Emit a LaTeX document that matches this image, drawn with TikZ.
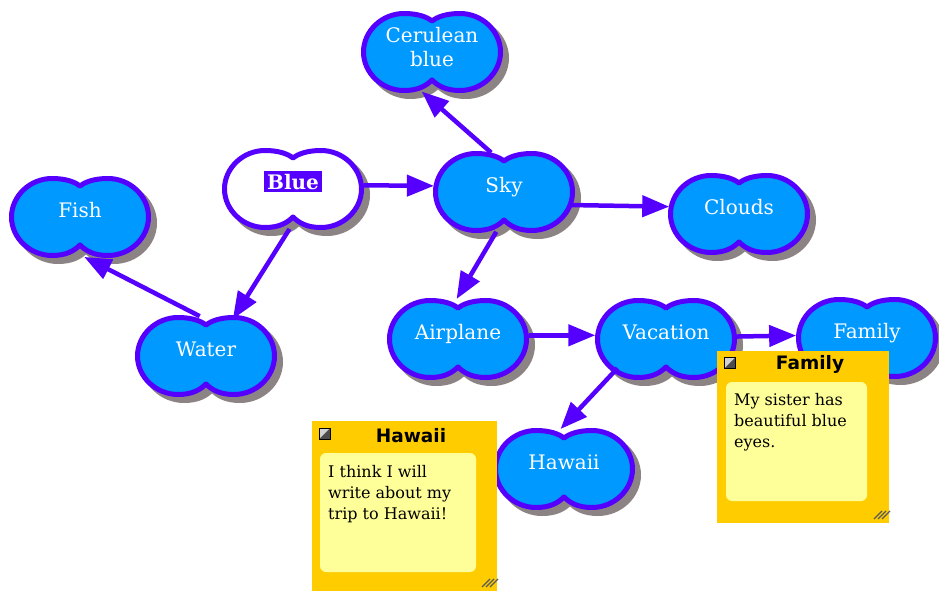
\documentclass[tikz,border=0pt]{standalone}
\usepackage{fontspec}
\setmainfont{DejaVu Serif}
\setsansfont{DejaVu Sans}
\usetikzlibrary{arrows.meta,shapes.geometric}
\definecolor{cfill}{RGB}{0,153,255}
\definecolor{cline}{RGB}{85,0,255}
\definecolor{cshadow}{RGB}{140,132,132}
\definecolor{norange}{RGB}{255,204,0}
\definecolor{nyellow}{RGB}{255,255,153}
\definecolor{grip}{RGB}{90,90,90}
\def\cloudpath{(0,-31) .. controls (5,-35) and (14,-38.5) .. (28,-38.5)
  .. controls (50,-38.5) and (68.5,-21) .. (68.5,0)
  .. controls (68.5,21) and (50,38.5) .. (28,38.5)
  .. controls (14,38.5) and (6,34) .. (0,28)
  .. controls (-6,34) and (-14,38.5) .. (-28,38.5)
  .. controls (-50,38.5) and (-68.5,21) .. (-68.5,0)
  .. controls (-68.5,-21) and (-50,-38.5) .. (-28,-38.5)
  .. controls (-14,-38.5) and (-5,-35) .. (0,-31) -- cycle}
\newcommand\mycloud[3]{%
  \begin{scope}[shift={(#1,#2)}]
    \begin{scope}[shift={(6,6)}]
      \filldraw[fill=cshadow, draw=cshadow, line width=5pt, line join=round] \cloudpath;
    \end{scope}
    \filldraw[fill=#3, draw=cline, line width=5pt, line join=round] \cloudpath;
  \end{scope}}
\begin{document}
\begin{tikzpicture}[x=1pt,y=-1pt,
  cloudtxt/.style={ellipse, minimum width=142pt, minimum height=80pt, inner sep=0pt, outer sep=0pt,
    text=white, font=\fontsize{20}{24}\selectfont, align=center},
  oneline/.style={text height=7pt, text depth=7pt},
  conn/.style={draw=cline, line width=4.5pt, -{Triangle[length=27pt,width=21pt]}},
  noteouter/.style={fill=norange, inner sep=0pt, outer sep=0pt, anchor=north west},
  noteinner/.style={fill=nyellow, rounded corners=6pt, inner sep=0pt, outer sep=0pt, anchor=north west},
  notetitle/.style={font=\sffamily\bfseries\fontsize{18.5}{20}\selectfont, inner sep=0pt},
  notebody/.style={font=\fontsize{16}{21}\selectfont, align=left, inner sep=0pt, anchor=north west},
  iconbox/.style={draw=black, line width=0.8pt, fill=black!70, minimum size=11pt, inner sep=0pt,
    path picture={\fill[gray!35] (path picture bounding box.north west) -- (path picture bounding box.north east) -- (path picture bounding box.south west) -- cycle;}},
  gripline/.style={draw=grip, line width=1.3pt}
]
\useasboundingbox (0,0) rectangle (939,591);
\fill[white] (0,0) rectangle (939,591);

% cloud shapes
\mycloud{432}{52}{cfill}
\mycloud{293}{189}{white}
\mycloud{504}{192}{cfill}
\mycloud{739}{214}{cfill}
\mycloud{80}{217}{cfill}
\mycloud{206}{356}{cfill}
\mycloud{458}{339}{cfill}
\mycloud{666}{339}{cfill}
\mycloud{867}{338}{cfill}
\mycloud{564}{469}{cfill}

% cloud labels
\node[cloudtxt, minimum height=90pt] (cer) at (432,47) {Cerulean\\blue};
\node[cloudtxt, oneline] (blue) at (293,189) {\setlength{\fboxsep}{3pt}\colorbox{cline}{\bfseries Blue}};
\node[cloudtxt, oneline] (sky) at (504,192) {Sky};
\node[cloudtxt, oneline] (clouds) at (739,214) {Clouds};
\node[cloudtxt, oneline] (fish) at (80,217) {Fish};
\node[cloudtxt, oneline] (water) at (206,356) {Water};
\node[cloudtxt, oneline] (air) at (458,339) {Airplane};
\node[cloudtxt, oneline] (vac) at (666,339) {Vacation};
\node[cloudtxt, oneline] (fam) at (867,338) {Family};
\node[cloudtxt, oneline] (haw) at (564,469) {Hawaii};

% connectors
\draw[conn] (blue.3) -- (sky.175);
\draw[conn] (sky.108) -- (cer.257);
\draw[conn] (sky.349) -- (clouds.174);
\draw[conn] (sky.259) -- (air.92);
\draw[conn] (blue.265) -- (water.54);
\draw[conn] (water.99) -- (fish.276);
\draw[conn] (air.3) -- (vac.177);
\draw[conn] (vac.2) -- (fam.178);
\draw[conn] (vac.211) -- (haw.95);

% Hawaii note
\node[noteouter, minimum width=185pt, minimum height=170pt] (hn) at (312,421) {};
\node[noteinner, minimum width=156pt, minimum height=119pt] (hni) at (320,453) {};
\node[notetitle] (hnt) at (411,436) {Hawaii};
\node[iconbox] (hnic) at (324.5,433.5) {};
\node[notebody] (hnb) at (328,465) {I think I will\\write about my\\trip to Hawaii!};
\foreach \k in {0,1,2}
  \draw[gripline] ([shift={(-15+4*\k,-4)}]hn.south east) -- ++(8,-8);

% Family note
\node[noteouter, minimum width=172pt, minimum height=172pt] (fn) at (717,351) {};
\node[noteinner, minimum width=141pt, minimum height=119pt] (fni) at (726,382) {};
\node[notetitle] (fnt) at (810,364) {Family};
\node[iconbox] (fnic) at (730,362.5) {};
\node[notebody] (fnb) at (734,393) {My sister has\\beautiful blue\\eyes.};
\foreach \k in {0,1,2}
  \draw[gripline] ([shift={(-15+4*\k,-4)}]fn.south east) -- ++(8,-8);
\end{tikzpicture}
\end{document}
